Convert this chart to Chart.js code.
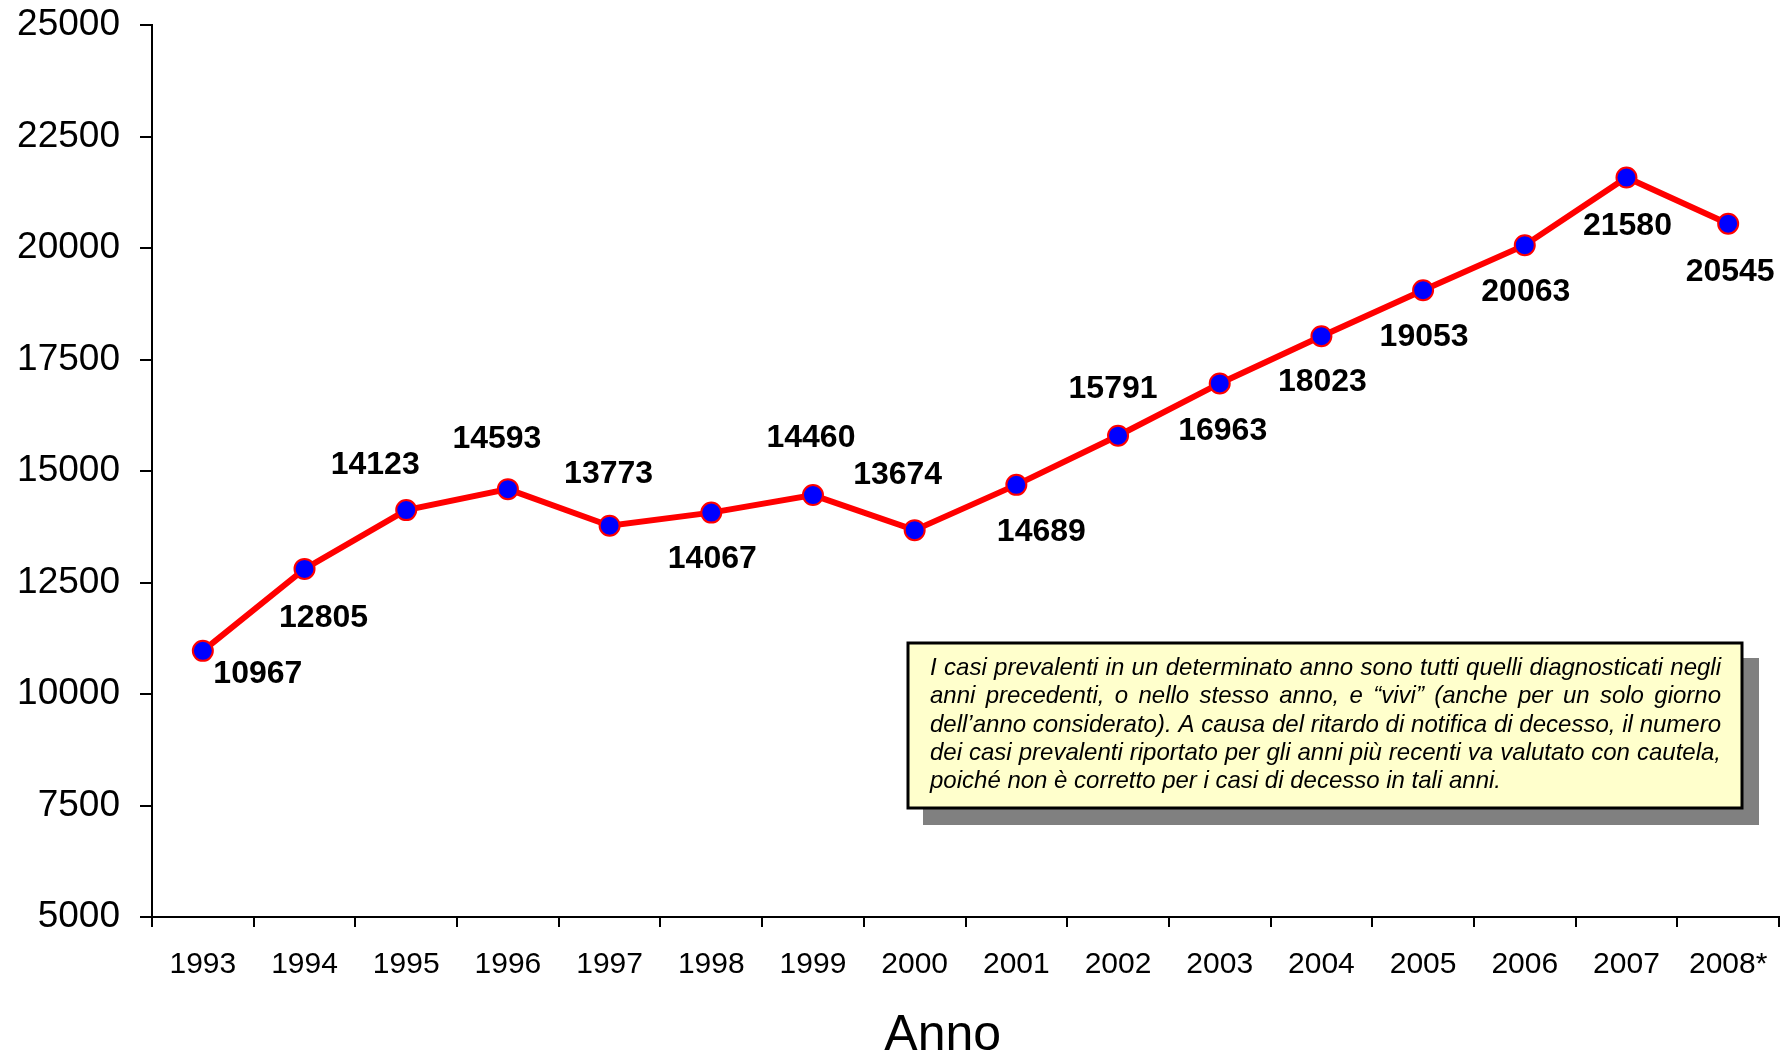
<!DOCTYPE html>
<html>
<head>
<meta charset="utf-8">
<script src="https://cdn.jsdelivr.net/npm/chart.js@4.4.1/dist/chart.umd.min.js"></script>
<style>
  html, body { margin: 0; padding: 0; background: #ffffff; }
  #wrap { width: 1791px; height: 1058px; position: relative; }
</style>
</head>
<body>
<div id="wrap"><canvas id="c" width="1791" height="1058"></canvas></div>
<script>
// ---- Data ----
const years = ['1993','1994','1995','1996','1997','1998','1999','2000','2001','2002','2003','2004','2005','2006','2007','2008*'];
const prevalentCases = [10967, 12805, 14123, 14593, 13773, 14067, 14460, 13674, 14689, 15791, 16963, 18023, 19053, 20063, 21580, 20545];
const yTicks = [5000, 7500, 10000, 12500, 15000, 17500, 20000, 22500, 25000];
const xAxisTitle = 'Anno';
const noteLines = [
  'I casi prevalenti in un determinato anno sono tutti quelli diagnosticati negli',
  'anni precedenti, o nello stesso anno, e \u201Cvivi\u201D (anche per un solo giorno',
  'dell\u2019anno considerato). A causa del ritardo di notifica di decesso, il numero',
  'dei casi prevalenti riportato per gli anni pi\u00F9 recenti va valutato con cautela,',
  'poich\u00E9 non \u00E8 corretto per i casi di decesso in tali anni.'
];

// ---- Label placement (pixel offsets from each point) ----
const labelOffsets = [
  [55, 23], [19, 49], [-31, -45], [-11, -50], [-1, -52], [1, 47], [-2, -57], [-17, -55],
  [25, 47], [-5, -47], [3, 48], [1, 46], [1, 47], [1, 47], [1, 49], [2, 48]
];

const FONT = '"Liberation Sans", Arial, Helvetica, sans-serif';

const valueLabels = {
  id: 'valueLabels',
  afterDatasetsDraw(chart) {
    const ctx = chart.ctx;
    const meta = chart.getDatasetMeta(0);
    ctx.save();
    ctx.font = 'bold 32px ' + FONT;
    ctx.fillStyle = '#000';
    ctx.textAlign = 'center';
    ctx.textBaseline = 'middle';
    meta.data.forEach((pt, i) => {
      const off = labelOffsets[i];
      ctx.fillText(String(prevalentCases[i]), pt.x + off[0], pt.y + off[1]);
    });
    ctx.restore();
  }
};

const noteBox = {
  id: 'noteBox',
  afterDraw(chart) {
    const ctx = chart.ctx;
    const a = chart.chartArea;
    const bx = 908, by = 643, bw = 1742 - 908, bh = 808 - 643;
    ctx.save();
    // shadow
    ctx.fillStyle = '#808080';
    ctx.fillRect(923, 658, 1759 - 923, 825 - 658);
    // box
    ctx.fillStyle = '#FFFFCC';
    ctx.fillRect(bx, by, bw, bh);
    ctx.lineWidth = 3;
    ctx.strokeStyle = '#000';
    ctx.strokeRect(bx, by, bw, bh);
    // text
    ctx.font = 'italic 24px ' + FONT;
    ctx.fillStyle = '#000';
    ctx.textBaseline = 'alphabetic';
    ctx.textAlign = 'left';
    const left = 930, right = 1721, width = right - left;
    const firstBase = 675, lh = 28.3;
    noteLines.forEach((line, li) => {
      const y = firstBase + li * lh;
      const words = line.split(' ');
      if (li === noteLines.length - 1 || words.length < 2) {
        ctx.fillText(line, left, y);
        return;
      }
      const ws = words.map(w => ctx.measureText(w).width);
      const total = ws.reduce((s, v) => s + v, 0);
      const gap = Math.max(3, (width - total) / (words.length - 1));
      let x = left;
      words.forEach((w, wi) => {
        ctx.fillText(w, x, y);
        x += ws[wi] + gap;
      });
    });
    // x axis title
    ctx.font = '50px ' + FONT;
    ctx.textAlign = 'center';
    ctx.textBaseline = 'middle';
    ctx.fillText(xAxisTitle, a.left + (a.right - a.left) * 0.486, 1036);
    ctx.restore();
  }
};

new Chart(document.getElementById('c'), {
  type: 'line',
  data: {
    labels: years,
    datasets: [{
      data: prevalentCases,
      borderColor: '#FF0000',
      borderWidth: 6,
      tension: 0,
      fill: false,
      pointRadius: 10,
      pointHoverRadius: 10,
      pointBorderWidth: 2,
      pointBorderColor: '#FF0000',
      pointBackgroundColor: '#0000FF'
    }]
  },
  options: {
    responsive: false,
    animation: false,
    devicePixelRatio: 1,
    layout: { padding: { top: 25, right: 11, left: 0, bottom: 0 } },
    plugins: {
      legend: { display: false },
      tooltip: { enabled: false },
      title: { display: false }
    },
    scales: {
      x: {
        type: 'category',
        offset: true,
        afterFit(scale) { scale.height = 141; scale.paddingLeft = 0; scale.paddingRight = 0; },
        grid: {
          display: true,
          offset: true,
          drawOnChartArea: false,
          drawTicks: true,
          tickLength: 10,
          color: '#000',
          lineWidth: 2
        },
        border: { display: true, color: '#000', width: 2 },
        ticks: {
          color: '#000',
          font: { family: FONT, size: 30 },
          padding: 20,
          maxRotation: 0,
          autoSkip: false
        }
      },
      y: {
        min: 5000,
        max: 25000,
        afterFit(scale) { scale.width = 152; scale.paddingTop = 0; scale.paddingBottom = 0; },
        afterBuildTicks(scale) { scale.ticks = yTicks.map(v => ({ value: v })); },
        grid: {
          display: true,
          drawOnChartArea: false,
          drawTicks: true,
          tickLength: 12,
          color: '#000',
          lineWidth: 2
        },
        border: { display: true, color: '#000', width: 2 },
        ticks: {
          color: '#000',
          font: { family: FONT, size: 37 },
          padding: 20,
          callback: v => String(v)
        }
      }
    }
  },
  plugins: [valueLabels, noteBox]
});
</script>
</body>
</html>
